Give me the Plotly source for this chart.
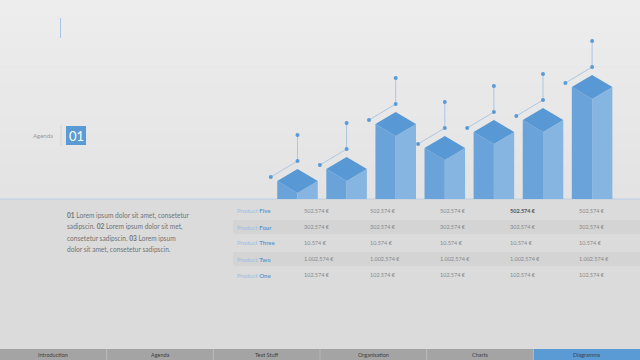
import plotly.graph_objects as go

# ---------------- data ----------------
bar_values = [6, 18, 63, 39, 55, 67, 100]          # front-edge height of each 3D bar
products = ["Five", "Four", "Three", "Two", "One"]
table_values = [
    ["502.574 €"] * 5,
    ["302.574 €"] * 5,
    ["10.574 €"] * 5,
    ["1.002.574 €"] * 5,
    ["102.574 €"] * 5,
]
highlight_cell = (0, 3)   # bold cell (row, col)
nav_items = ["Introduction", "Agenda", "Text Stuff", "Organisation", "Charts", "Diagramms"]
active_nav = "Diagramms"
paragraph_lines = [
    "<b>01</b> Lorem ipsum dolor sit amet, consetetur",
    "sadipscin. <b>02</b> Lorem ipsum dolor sit met,",
    "consetetur sadipscin. <b>03</b> Lorem ipsum",
    "dolor sit amet, consetetur sadipscin.",
]

# ---------------- styling ----------------
W, H = 640, 360
FONT = "Lato"
BLUE = "#5b9bd5"
TOP_C = "#5898d5"
LEFT_C = "#69a3d9"
RIGHT_C = "#87b5e1"
LINE_C = "#adc6e2"
HW = 0.413     # half width of bar (category units)
DY = 12        # isometric rise (value units)

def px(x):
    return x / W

def py(y):
    return 1 - y / H

fig = go.Figure()

for i, v in enumerate(bar_values):
    cx = i
    fig.add_trace(go.Scatter(x=[cx - HW, cx - HW, cx, cx, cx - HW],
                             y=[0, v + DY, v, 0, 0], fill="toself",
                             fillcolor=LEFT_C, line=dict(width=0), mode="lines",
                             hoverinfo="skip", showlegend=False))
    fig.add_trace(go.Scatter(x=[cx, cx, cx + HW, cx + HW, cx],
                             y=[0, v, v + DY, 0, 0], fill="toself",
                             fillcolor=RIGHT_C, line=dict(width=0), mode="lines",
                             hoverinfo="skip", showlegend=False))
    fig.add_trace(go.Scatter(x=[cx, cx - HW, cx, cx + HW, cx],
                             y=[v, v + DY, v + 2 * DY, v + DY, v], fill="toself",
                             fillcolor=TOP_C, line=dict(width=0), mode="lines",
                             hoverinfo="skip", showlegend=False))
    fig.add_trace(go.Scatter(x=[cx - 0.544, cx, cx],
                             y=[v + 16, v + 2 * DY + 8, v + 2 * DY + 34],
                             mode="lines+markers",
                             line=dict(color=LINE_C, width=1),
                             marker=dict(color=BLUE, size=4),
                             hoverinfo="skip", showlegend=False))

shapes = []
n = 12
top_rgb = (237, 237, 237)
bot_rgb = (227, 227, 227)
for k in range(n):
    t = k / (n - 1)
    c = tuple(int(round(top_rgb[j] + (bot_rgb[j] - top_rgb[j]) * t)) for j in range(3))
    y0 = 199 * k / n
    y1 = 199 * (k + 1) / n
    shapes.append(dict(type="rect", xref="paper", yref="paper", x0=0, x1=1,
                       y0=py(y1), y1=py(y0), fillcolor="rgb(%d,%d,%d)" % c,
                       line=dict(width=0), layer="below"))
shapes.append(dict(type="rect", xref="paper", yref="paper", x0=0, x1=1,
                   y0=py(349), y1=py(199), fillcolor="#dbdbdb",
                   line=dict(width=0), layer="below"))
for ry in [227, 259]:
    shapes.append(dict(type="rect", xref="paper", yref="paper", x0=px(233), x1=1,
                       y0=py(ry + 7), y1=py(ry - 7), fillcolor="#d4d4d4",
                       line=dict(width=0), layer="below"))
shapes.append(dict(type="line", xref="paper", yref="paper", x0=0, x1=1,
                   y0=py(199), y1=py(199), line=dict(color="#bcd0e6", width=1),
                   layer="below"))
shapes.append(dict(type="line", xref="paper", yref="paper", x0=px(60.5), x1=px(60.5),
                   y0=py(18), y1=py(38), line=dict(color="#a9c5e3", width=1)))
shapes.append(dict(type="line", xref="paper", yref="paper", x0=px(61), x1=px(61),
                   y0=py(125), y1=py(146), line=dict(color="#d2d2d2", width=1)))
shapes.append(dict(type="rect", xref="paper", yref="paper", x0=px(66), x1=px(86),
                   y0=py(145), y1=py(126), fillcolor=BLUE, line=dict(width=0)))
seg = W / len(nav_items)
for k, name in enumerate(nav_items):
    col = BLUE if name == active_nav else "#a4a4a4"
    shapes.append(dict(type="rect", xref="paper", yref="paper",
                       x0=px(k * seg), x1=px((k + 1) * seg),
                       y0=0, y1=py(349), fillcolor=col,
                       line=dict(width=0)))
    if k > 0:
        shapes.append(dict(type="line", xref="paper", yref="paper",
                           x0=px(k * seg), x1=px(k * seg), y0=0, y1=py(349),
                           line=dict(color="#b8b8b8", width=1)))

annotations = []
annotations.append(dict(text="Agenda", x=px(55), y=py(135.5), xref="paper", yref="paper",
                        xanchor="right", yanchor="middle", showarrow=False,
                        font=dict(family=FONT, size=6, color="#9a9a9a")))
annotations.append(dict(text="01", x=px(76), y=py(135.5), xref="paper", yref="paper",
                        xanchor="center", yanchor="middle", showarrow=False,
                        font=dict(family=FONT, size=13, color="white")))
for k, line in enumerate(paragraph_lines):
    annotations.append(dict(text=line, x=px(65), y=py(215 + 11.4 * k), xref="paper",
                            yref="paper", xanchor="left", yanchor="middle",
                            showarrow=False,
                            font=dict(family=FONT, size=6.6, color="#747474")))
row_y = [210.5, 227, 242.5, 259, 275]
col_x = [302, 368, 438, 508, 577]
for r, name in enumerate(products):
    annotations.append(dict(
        text="<span style='color:#9dbde2'>Product</span> <b>%s</b>" % name,
        x=px(235), y=py(row_y[r]), xref="paper", yref="paper",
        xanchor="left", yanchor="middle", showarrow=False,
        font=dict(family=FONT, size=6, color=BLUE)))
    for c, val in enumerate(table_values[r]):
        if (r, c) == highlight_cell:
            txt, colr = "<b>%s</b>" % val, "#555555"
        else:
            txt, colr = val, "#8a8a8a"
        annotations.append(dict(text=txt, x=px(col_x[c]), y=py(row_y[r]),
                                xref="paper", yref="paper", xanchor="left",
                                yanchor="middle", showarrow=False,
                                font=dict(family=FONT, size=5.5, color=colr)))
for k, name in enumerate(nav_items):
    annotations.append(dict(text=name, x=px((k + 0.5) * seg), y=py(354.5),
                            xref="paper", yref="paper", xanchor="center",
                            yanchor="middle", showarrow=False,
                            font=dict(family=FONT, size=5.5, color="#3f3f3f")))

x0 = 297.5
dx = 49.1
fig.update_layout(
    width=W, height=H, margin=dict(l=0, r=0, t=0, b=0),
    paper_bgcolor="#e6e6e6", plot_bgcolor="rgba(0,0,0,0)",
    xaxis=dict(range=[-x0 / dx, (W - x0) / dx], visible=False, fixedrange=True,
               domain=[0, 1]),
    yaxis=dict(range=[-(H - 199), 199], visible=False, fixedrange=True,
               domain=[0, 1]),
    shapes=shapes, annotations=annotations, showlegend=False,
)

fig.write_html("out.html", include_plotlyjs=True, config={"displayModeBar": False})
